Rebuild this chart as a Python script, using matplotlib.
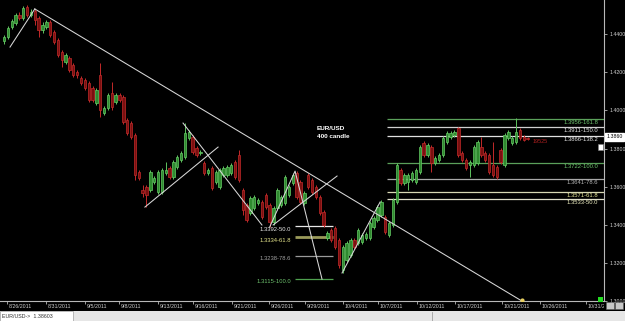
import numpy as np
import matplotlib
matplotlib.use('Agg')
import matplotlib.pyplot as plt
from matplotlib.patches import Rectangle

# EUR/USD candles (price)
opens = [1.4365, 1.4386, 1.4438, 1.4459, 1.4501, 1.4486, 1.4543, 1.4501, 1.4522, 1.4486,
         1.4423, 1.4438, 1.4465, 1.4412, 1.4370, 1.4307, 1.4255, 1.4276, 1.4239, 1.4202,
         1.4171, 1.4160, 1.4144, 1.4118, 1.4039, 1.4186, 1.3987, 1.4013, 1.4092, 1.4045,
         1.4081, 1.4071, 1.3950, 1.3934, 1.3871, 1.3677, 1.3583, 1.3598, 1.3583, 1.3625,
         1.3572, 1.3572, 1.3672, 1.3698, 1.3651, 1.3703, 1.3740, 1.3756, 1.3856, 1.3861,
         1.3803, 1.3777, 1.3724, 1.3672, 1.3698, 1.3625, 1.3598, 1.3661, 1.3661, 1.3672,
         1.3730, 1.3766, 1.3583, 1.3504, 1.3462, 1.3488, 1.3514, 1.3520, 1.3556, 1.3504,
         1.3415, 1.3488, 1.3504, 1.3514, 1.3556, 1.3619, 1.3672, 1.3625, 1.3514, 1.3661,
         1.3635, 1.3598, 1.3546, 1.3467, 1.3331, 1.3373, 1.3383, 1.3320, 1.3163, 1.3215,
         1.3241, 1.3320, 1.3304, 1.3310, 1.3331, 1.3331, 1.3388, 1.3425, 1.3451, 1.3441,
         1.3346, 1.3399, 1.3520, 1.3688, 1.3619, 1.3625, 1.3635, 1.3625, 1.3677, 1.3829,
         1.3766, 1.3808, 1.3724, 1.3740, 1.3766, 1.3835, 1.3861, 1.3871, 1.3908, 1.3777,
         1.3740, 1.3714, 1.3714, 1.3724, 1.3808, 1.3777, 1.3766, 1.3714, 1.3703, 1.3793,
         1.3714, 1.3856, 1.3829, 1.3835, 1.3898, 1.3861, 1.3856]
highs = [1.4396, 1.4444, 1.4480, 1.4512, 1.4517, 1.4549, 1.4554, 1.4533, 1.4533, 1.4496,
         1.4465, 1.4475, 1.4475, 1.4423, 1.4381, 1.4318, 1.4302, 1.4286, 1.4249, 1.4213,
         1.4181, 1.4171, 1.4155, 1.4129, 1.4118, 1.4249, 1.4024, 1.4092, 1.4150, 1.4092,
         1.4092, 1.4081, 1.3961, 1.3945, 1.3882, 1.3688, 1.3609, 1.3609, 1.3688, 1.3656,
         1.3688, 1.3698, 1.3730, 1.3709, 1.3740, 1.3766, 1.3787, 1.3934, 1.3898, 1.3871,
         1.3814, 1.3793, 1.3735, 1.3698, 1.3709, 1.3688, 1.3698, 1.3709, 1.3714, 1.3724,
         1.3740, 1.3793, 1.3593, 1.3514, 1.3551, 1.3556, 1.3541, 1.3530, 1.3567, 1.3514,
         1.3499, 1.3593, 1.3556, 1.3661, 1.3609, 1.3672, 1.3682, 1.3635, 1.3577, 1.3672,
         1.3646, 1.3609, 1.3556, 1.3478, 1.3367, 1.3383, 1.3394, 1.3331, 1.3294, 1.3315,
         1.3331, 1.3331, 1.3383, 1.3357, 1.3362, 1.3420, 1.3446, 1.3504, 1.3530, 1.3451,
         1.3420, 1.3541, 1.3724, 1.3698, 1.3672, 1.3672, 1.3682, 1.3698, 1.3819, 1.3840,
         1.3829, 1.3819, 1.3761, 1.3777, 1.3866, 1.3892, 1.3892, 1.3898, 1.3913, 1.3787,
         1.3751, 1.3740, 1.3819, 1.3845, 1.3861, 1.3787, 1.3777, 1.3835, 1.3714, 1.3803,
         1.3882, 1.3898, 1.3866, 1.3961, 1.3908, 1.3871, 1.3861]
lows = [1.4349, 1.4375, 1.4428, 1.4449, 1.4475, 1.4475, 1.4491, 1.4491, 1.4449, 1.4386,
        1.4407, 1.4428, 1.4386, 1.4349, 1.4281, 1.4228, 1.4244, 1.4202, 1.4176, 1.4171,
        1.4134, 1.4108, 1.4045, 1.4045, 1.4029, 1.3966, 1.3976, 1.4003, 1.4003, 1.4034,
        1.4045, 1.3929, 1.3871, 1.3850, 1.3635, 1.3635, 1.3546, 1.3493, 1.3572, 1.3614,
        1.3562, 1.3562, 1.3661, 1.3640, 1.3640, 1.3693, 1.3730, 1.3745, 1.3845, 1.3772,
        1.3756, 1.3766, 1.3661, 1.3661, 1.3583, 1.3614, 1.3588, 1.3651, 1.3651, 1.3661,
        1.3640, 1.3625, 1.3451, 1.3415, 1.3451, 1.3478, 1.3504, 1.3430, 1.3483, 1.3388,
        1.3399, 1.3478, 1.3493, 1.3504, 1.3546, 1.3609, 1.3535, 1.3509, 1.3504, 1.3588,
        1.3562, 1.3535, 1.3451, 1.3388, 1.3320, 1.3310, 1.3273, 1.3173, 1.3147, 1.3205,
        1.3231, 1.3273, 1.3294, 1.3299, 1.3320, 1.3320, 1.3378, 1.3415, 1.3441, 1.3352,
        1.3336, 1.3388, 1.3509, 1.3609, 1.3609, 1.3583, 1.3625, 1.3614, 1.3667, 1.3756,
        1.3756, 1.3677, 1.3714, 1.3730, 1.3756, 1.3824, 1.3850, 1.3861, 1.3756, 1.3730,
        1.3688, 1.3651, 1.3703, 1.3714, 1.3756, 1.3730, 1.3667, 1.3651, 1.3640, 1.3719,
        1.3703, 1.3845, 1.3819, 1.3824, 1.3845, 1.3840, 1.3845]
closes = [1.4386, 1.4433, 1.4470, 1.4501, 1.4486, 1.4538, 1.4501, 1.4517, 1.4475, 1.4423,
          1.4449, 1.4465, 1.4396, 1.4360, 1.4291, 1.4265, 1.4291, 1.4213, 1.4186, 1.4186,
          1.4144, 1.4118, 1.4055, 1.4055, 1.4108, 1.4003, 1.4013, 1.4081, 1.4018, 1.4081,
          1.4055, 1.3940, 1.3882, 1.3861, 1.3661, 1.3646, 1.3567, 1.3556, 1.3677, 1.3646,
          1.3677, 1.3688, 1.3688, 1.3651, 1.3730, 1.3756, 1.3777, 1.3882, 1.3887, 1.3782,
          1.3766, 1.3782, 1.3672, 1.3688, 1.3593, 1.3677, 1.3688, 1.3698, 1.3703, 1.3714,
          1.3651, 1.3635, 1.3478, 1.3425, 1.3541, 1.3546, 1.3530, 1.3441, 1.3493, 1.3415,
          1.3488, 1.3583, 1.3546, 1.3651, 1.3598, 1.3661, 1.3546, 1.3520, 1.3567, 1.3598,
          1.3572, 1.3546, 1.3462, 1.3399, 1.3357, 1.3320, 1.3283, 1.3189, 1.3283, 1.3304,
          1.3320, 1.3283, 1.3373, 1.3346, 1.3352, 1.3409, 1.3436, 1.3493, 1.3520, 1.3362,
          1.3409, 1.3530, 1.3714, 1.3619, 1.3661, 1.3661, 1.3672, 1.3688, 1.3808, 1.3766,
          1.3819, 1.3724, 1.3751, 1.3766, 1.3856, 1.3882, 1.3882, 1.3887, 1.3766, 1.3740,
          1.3698, 1.3730, 1.3808, 1.3835, 1.3766, 1.3740, 1.3677, 1.3661, 1.3651, 1.3730,
          1.3871, 1.3887, 1.3856, 1.3887, 1.3856, 1.3845, 1.3850]

date_pos = [0.8, 10.9, 21.0, 29.9, 40.0, 49.1, 59.2, 68.8, 78.2, 88.1, 97.1, 107.3, 117.1, 129.4, 139.2, 151.2]
date_lbl = ['8/26/2011', '8/31/2011', '9/5/2011', '9/8/2011', '9/13/2011', '9/16/2011',
            '9/21/2011', '9/26/2011', '9/29/2011', '10/4/2011', '10/7/2011', '10/12/2011',
            '10/17/2011', '10/21/2011', '10/26/2011', '10/31/2011']
price_ticks = [1.3000, 1.3200, 1.3400, 1.3600, 1.3800, 1.4000, 1.4200, 1.4400]

# drawn objects (bar index, price)
trend_main = [(8.0, 1.4533), (134.5, 1.3000)]
zigzag = [
    [(1.56, 1.4333), (8.0, 1.4533)],
    [(36.6, 1.3493), (55.6, 1.3808)],
    [(46.5, 1.3934), (67.0, 1.3399)],
    [(69.0, 1.3388), (75.6, 1.3682), (82.6, 1.3115)],
    [(69.9, 1.3399), (86.5, 1.3656)],
    [(87.8, 1.3147), (97.7, 1.3520)],
]
fib_left = [1.3392, 1.3334, 1.3238, 1.3115]
fib_left_txt = ['1.3392-50.0', '1.3334-61.8', '1.3238-78.6', '1.3115-100.0']
fib_left_col = ['#e8e8e8', '#9a9a5a', '#9a9a9a', '#4fa04f']
fib_left_tcol = ['#e8e8e8', '#e6e68c', '#a0a0a0', '#6fc46f']
fib_right = [1.3956, 1.3911, 1.3866, 1.3722, 1.3641, 1.3571, 1.3533]
fib_right_txt = ['1.3956-161.8', '1.3911-150.0', '1.3866-138.2', '1.3722-100.0',
                 '1.3641-78.6', '1.3571-61.8', '1.3533-50.0']
fib_right_col = ['#5aa05a', '#d0d0d0', '#e0e0e0', '#5aa05a', '#a8a8a8', '#d8d8b4', '#e0e0cc']
fib_right_tcol = ['#6fc46f', '#e8e8e8', '#e8e8e8', '#6fc46f', '#b4b4b4', '#eaea9a', '#ececc0']

W, H = 625, 321
FONT = 'Liberation Sans'
fig = plt.figure(figsize=(W / 100, H / 100), dpi=100, facecolor='black')
ax = fig.add_axes([0, 20 / H, 604 / W, 301 / H])
ax.set_facecolor('black')
ax.set_xlim(-1.04, 155.84)
ax.set_ylim(1.3000, 1.4580)

px = 0.000525  # price per pixel
x = np.arange(len(opens))
o = np.array(opens); c = np.array(closes)
up = c >= o
wcol = np.where(up, '#5fc45f', '#c42a2a')
ax.vlines(x, lows, highs, colors=wcol, linewidth=0.7, zorder=3)
bottoms = np.minimum(o, c)
heights = np.maximum(np.abs(c - o), px * 0.8)
ax.bar(x[up], heights[up], bottom=bottoms[up], width=0.62, color='#2f8a2f',
       edgecolor='#66cc66', linewidth=0.5, zorder=4)
ax.bar(x[~up], heights[~up], bottom=bottoms[~up], width=0.62, color='#7a1010',
       edgecolor='#c42a2a', linewidth=0.5, zorder=4)

lc = '#d8d8d8'
ax.plot(*zip(*trend_main), color=lc, lw=0.75, zorder=5)
ax.plot([trend_main[1][0]], [trend_main[1][1] + px], 'o', ms=2, color='#e8d060', zorder=6)
for seg in zigzag:
    ax.plot(*zip(*seg), color=lc, lw=0.75, zorder=5)

for lv, t, lcol, tcol in zip(fib_left, fib_left_txt, fib_left_col, fib_left_tcol):
    ax.hlines(lv, 75.6, 85.5, colors=lcol, lw=2.0 if '61.8' in t else 0.9, zorder=2)
    ax.text(74.6, lv - 0.4 * px, t, color=tcol, fontsize=4.2, family=FONT,
            ha='right', va='top', zorder=6)
for lv, t, lcol, tcol in zip(fib_right, fib_right_txt, fib_right_col, fib_right_tcol):
    ax.hlines(lv, 99.5, 155.84, colors=lcol, lw=0.9, zorder=2)
    ax.text(154.3, lv - 0.8 * px, t, color=tcol, fontsize=4.2, family=FONT,
            ha='right', va='top', zorder=6)

ax.text(81.3, 1.4580 - 128 * px, 'EUR/USD', color='white', fontsize=4.6, family=FONT,
        fontweight='bold', va='center', ha='left')
ax.text(81.3, 1.4580 - 136.5 * px, '400 candle', color='white', fontsize=4.6, family=FONT,
        fontweight='bold', va='center', ha='left')
ax.text(137.4, 1.4580 - 141 * px, '19525', color='#b02020', fontsize=4.0, family=FONT,
        va='center', ha='left')

# axes look
for s in ['top', 'left']:
    ax.spines[s].set_visible(False)
for s in ['right', 'bottom']:
    ax.spines[s].set_color('#b8b8b8')
    ax.spines[s].set_linewidth(0.8)
ax.yaxis.tick_right()
ax.set_yticks(price_ticks)
ax.set_yticklabels(['%.4f' % p for p in price_ticks])
ax.tick_params(axis='y', colors='#b8b8b8', labelcolor='#d0d0d0', labelsize=3.8,
               length=2.5, width=0.6, pad=1.5)
for lab in ax.get_yticklabels():
    lab.set_family(FONT)
ax.set_xticks(date_pos)
ax.set_xticklabels([])
ax.tick_params(axis='x', colors='#b8b8b8', length=2, width=0.6)

# date strip (clipped at price scale)
dax = fig.add_axes([0, 10 / H, 604 / W, 9 / H])
dax.set_facecolor('black')
dax.set_xlim(ax.get_xlim())
dax.set_ylim(0, 1)
dax.axis('off')
for p, t in zip(date_pos, date_lbl):
    dax.text(p + 0.4, 0.55, t, color='#d0d0d0', fontsize=3.8, family=FONT,
             ha='left', va='center', clip_on=True)

# current price box
ax.annotate('1.3860', xy=(1.0, 1.3861), xycoords=('axes fraction', 'data'),
            xytext=(1.5, 0), textcoords='offset points', fontsize=3.8, family=FONT,
            color='black', ha='left', va='center',
            bbox=dict(boxstyle='square,pad=0.25', fc='white', ec='white'),
            annotation_clip=False)

# small widgets
fig.patches.append(Rectangle((598 / W, 1 - 150 / H), 5 / W, 6 / H, transform=fig.transFigure,
                             fc='white', ec='#808080', lw=0.4))
fig.patches.append(Rectangle((598 / W, 1 - 302 / H), 5 / W, 5 / H, transform=fig.transFigure,
                             fc='#22dd22', ec='none'))
for bx in (606, 615):
    fig.patches.append(Rectangle((bx / W, 1 - 309 / H), 8 / W, 7 / H, transform=fig.transFigure,
                                 fc='#c8c8c8', ec='#606060', lw=0.4))

# status bar
fig.patches.append(Rectangle((0, 0), 1, 10 / H, transform=fig.transFigure,
                             fc='#e6e6e6', ec='none'))
fig.patches.append(Rectangle((0, 0), 73 / W, 10 / H, transform=fig.transFigure,
                             fc='white', ec='#a0a0a0', lw=0.5))
fig.lines.append(plt.Line2D([432 / W, 432 / W], [0, 9 / H], transform=fig.transFigure,
                            color='#a0a0a0', lw=0.6))
fig.text(2 / W, 5 / H, 'EUR/USD->  1.38603', fontsize=3.8, family=FONT, color='#303030',
         ha='left', va='center')

fig.savefig('out.png', dpi=100, facecolor='black')
